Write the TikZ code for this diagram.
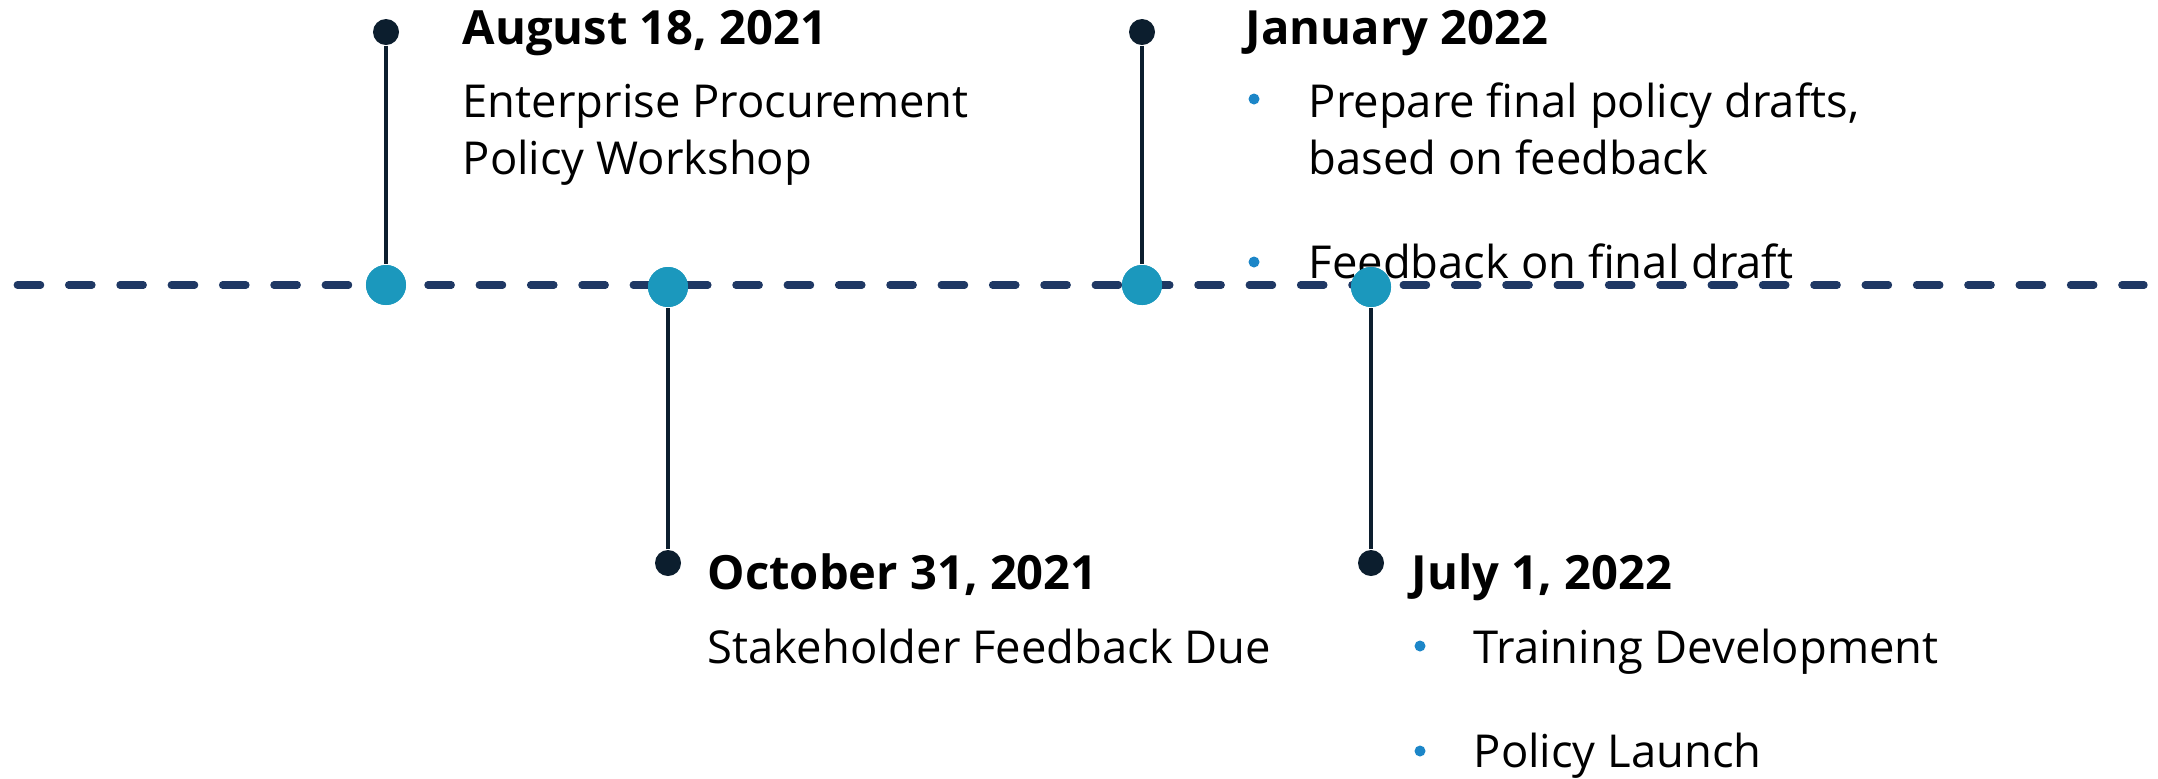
\documentclass[tikz,border=0pt]{standalone}
\usepackage{fontspec}
\usepackage{tikz}
\setmainfont{Open Sans}
\usetikzlibrary{positioning}
\definecolor{axisline}{RGB}{31,56,100}
\definecolor{milestone}{RGB}{27,152,189}
\definecolor{stem}{RGB}{12,30,46}
\definecolor{bullet}{RGB}{28,134,200}

\begin{document}
\begin{tikzpicture}[x=0.01cm, y=-0.01cm,
    bigdot/.style={circle, fill=milestone, inner sep=0pt, minimum size=0.4cm},
    enddot/.style={circle, fill=stem, inner sep=0pt, minimum size=0.26cm},
    bulletdot/.style={circle, fill=bullet, inner sep=0pt, minimum size=0.11cm},
    stemline/.style={draw=stem, line width=0.04cm},
    datetext/.style={anchor=base west, inner sep=0pt, font=\bfseries\fontsize{13.4}{16.2}\selectfont},
    bodytext/.style={anchor=base west, inner sep=0pt, align=left, font=\fontsize{12.9}{16.2}\selectfont}]
        \useasboundingbox (0,0) rectangle (2158,778);

        % Dashed time axis
        \draw[axisline, line width=0.073cm, line cap=round, dash pattern=on 0.233cm off 0.28cm] (17.3,285) -- (2144,285);

        % Dates and texts (two-line texts sit on their last baseline)
        \node[datetext] (augdate) at (462,44) {August 18, 2021};
        \node[bodytext] (augtext) at (462,174) {Enterprise Procurement\\Policy Workshop};

        \node[datetext] (octdate) at (707,589) {October 31, 2021};
        \node[bodytext] (octtext) at (707,663) {Stakeholder Feedback Due};

        \node[datetext] (jandate) at (1245,44) {January 2022};
        \node[bulletdot] (janb1) at (1254,99) {};
        \node[bodytext] (jant1) at (1308,174) {Prepare final policy drafts,\\based on feedback};
        \node[bulletdot] (janb2) at (1254,262) {};
        \node[bodytext] (jant2) at (1308,278) {Feedback on final draft};

        \node[datetext] (juldate) at (1411,589) {July 1, 2022};
        \node[bulletdot] (julb1) at (1420,646) {};
        \node[bodytext] (jult1) at (1473,663) {Training Development};
        \node[bulletdot] (julb2) at (1420,751) {};
        \node[bodytext] (jult2) at (1473,767) {Policy Launch};

        % Stem end dots
        \node[enddot] (augend) at (386,32) {};
        \node[enddot] (octend) at (668,563) {};
        \node[enddot] (janend) at (1142,32) {};
        \node[enddot] (julend) at (1371,563) {};

        % Milestones on the axis
        \node[bigdot] (aug) at (386,285) {};
        \node[bigdot] (oct) at (668,287) {};
        \node[bigdot] (jan) at (1142,285) {};
        \node[bigdot] (jul) at (1371,287) {};

        % Stems, then the milestones again on top
        \draw[stemline] (augend) -- (aug);
        \draw[stemline] (octend) -- (oct);
        \draw[stemline] (janend) -- (jan);
        \draw[stemline] (julend) -- (jul);
        \node[bigdot] at (aug) {};
        \node[bigdot] at (oct) {};
        \node[bigdot] at (jan) {};
        \node[bigdot] at (jul) {};
\end{tikzpicture}
\end{document}
